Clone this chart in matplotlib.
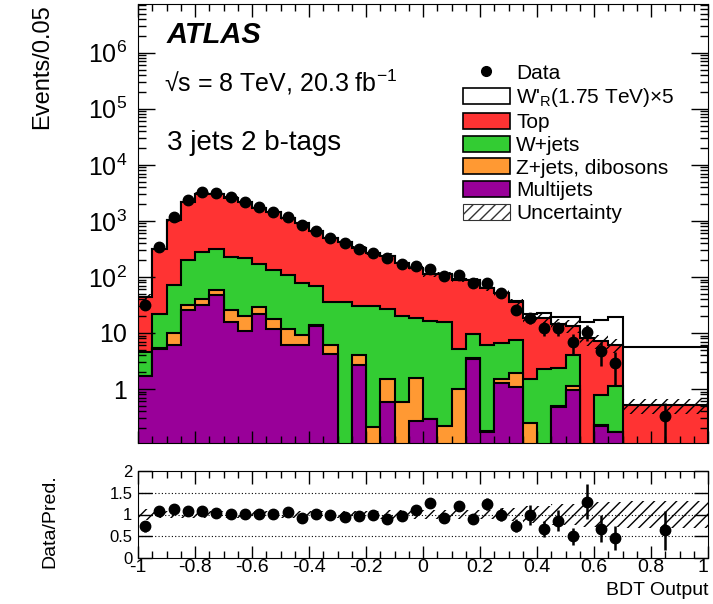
import numpy as np
import matplotlib
matplotlib.use('Agg')
import matplotlib.pyplot as plt
from matplotlib.patches import Patch
from matplotlib.lines import Line2D
from matplotlib.ticker import MultipleLocator, LogLocator, NullFormatter, FuncFormatter, FixedLocator

plt.rcParams['font.family'] = ['Liberation Sans', 'DejaVu Sans']
plt.rcParams['mathtext.fontset'] = 'custom'
plt.rcParams['mathtext.rm'] = 'Liberation Sans'
plt.rcParams['mathtext.it'] = 'Liberation Sans:italic'
plt.rcParams['mathtext.bf'] = 'Liberation Sans:bold'
plt.rcParams['axes.unicode_minus'] = False
plt.rcParams['hatch.linewidth'] = 1.0

# binning: 0.05 wide from -1 to 0.7, last bin merged 0.7 - 1.0
bin_edges = list(np.round(np.arange(-1.0, 0.701, 0.05), 2)) + [1.0]

# events / 0.05
data = [32, 337, 1150, 2370, 3240, 3150, 2630, 2140, 1740, 1440,
        1170, 830, 670, 495, 400, 317, 265, 214, 170, 158,
        141, 103, 107, 78, 78, 51, 26, 18.5, 12.4, 12.4,
        6.8, 10.5, 4.8, 2.9, 0.33]
multijets = [1.7, 5.2, 6.0, 26, 31, 47, 16, 11, 22, 11.9,
             6.0, 6.2, 13.6, 4.2, 0, 2.7, 0, 0.58, 0, 0.27,
             0.29, 0, 0, 3.45, 0.17, 1.3, 1.1, 0, 0, 0.48,
             0.96, 0, 0.22, 0.17, 0]
zjets_db = [0, 0.2, 4.0, 6, 9, 11, 10, 8.8, 7, 6.1,
            5.9, 3.1, 0.2, 2.0, 0, 1.4, 0.21, 0.92, 0.59, 1.28,
            0, 0.22, 1.0, 0.15, 0.01, 0.2, 0.8, 0.25, 0, 0.02,
            0.17, 0, 0.01, 0, 0]
wjets = [2.8, 16.6, 61, 168, 234, 252, 197, 194, 141, 117,
         96, 68.7, 54.2, 28.8, 35, 25.9, 29.8, 25.5, 19.4, 17,
         16.4, 15.5, 4.2, 6.1, 5.9, 5.2, 5.6, 1.25, 2.24, 1.84,
         2.87, 0, 0.55, 0.96, 0]
top = [39.5, 290, 956, 1994, 2726, 2719, 2355, 1926, 1536, 1277,
       1006, 824, 589, 470, 386, 300, 240, 213, 157, 125.5,
       95.3, 97.3, 84.8, 77.3, 56.9, 44.3, 27.5, 17.2, 16.56, 12.06,
       9.6, 8.1, 6.32, 5.04, 0.52]
wprime_x5 = [0.1, 0.1, 0.1, 0.1, 0.1, 0.1, 0.1, 0.1, 0.1, 0.1,
             0.1, 0.1, 0.1, 0.1, 0.1, 0.1, 0.2, 0.2, 0.2, 0.2,
             0.2, 0.3, 0.4, 0.5, 0.6, 1.0, 1.5, 3.0, 3.5, 5.0,
             6.0, 7.7, 9.9, 13.3, 5.2]
# relative uncertainty on the prediction
rel_unc = [0.13, 0.07, 0.07, 0.07, 0.07, 0.07, 0.07, 0.07, 0.07, 0.07,
           0.07, 0.08, 0.08, 0.08, 0.08, 0.08, 0.08, 0.10, 0.10, 0.10,
           0.10, 0.10, 0.10, 0.10, 0.10, 0.15, 0.15, 0.20, 0.20, 0.25,
           0.25, 0.28, 0.28, 0.28, 0.30]

legend_labels = ['Data', "W'$_{\\rm R}$(1.75 TeV)\u00d75", 'Top', 'W+jets',
                 'Z+jets, dibosons', 'Multijets', 'Uncertainty']
x_ticks = [-1, -0.8, -0.6, -0.4, -0.2, 0, 0.2, 0.4, 0.6, 0.8, 1]
ratio_ticks = [0, 0.5, 1, 1.5, 2]

c_top = '#ff3333'
c_wj = '#33cc33'
c_zj = '#ff9933'
c_mj = '#990099'

edges = np.array(bin_edges)
centers = 0.5 * (edges[1:] + edges[:-1])
scale = np.diff(edges) / 0.05
d = np.array(data)
derr = np.sqrt(d * scale) / scale
unc = np.array(rel_unc)

s1 = np.array(multijets)
s2 = s1 + np.array(zjets_db)
s3 = s2 + np.array(wjets)
s4 = s3 + np.array(top)
s5 = s4 + np.array(wprime_x5)

fig = plt.figure(figsize=(7.13, 6.04), dpi=100)
ax = fig.add_axes([138/713, 1-443/604, 570/713, 439/604])
ax2 = fig.add_axes([138/713, 1-558/604, 570/713, 87/604])

floor = 1e-3
for vals, col in [(s5, 'white'), (s4, c_top), (s3, c_wj), (s2, c_zj), (s1, c_mj)]:
    ax.stairs(np.maximum(vals, floor), edges, baseline=floor, fill=True,
              facecolor=col, edgecolor='black', linewidth=1.5)
ax.stairs(s4 * (1 + unc), edges, baseline=s4 * (1 - unc), fill=True,
          facecolor='none', edgecolor='black', hatch='///', linewidth=0)
ax.errorbar(centers, d, yerr=derr, fmt='o', color='black', ms=7.5,
            elinewidth=1.8, capsize=0, zorder=5)

ax.set_yscale('log')
ax.set_xlim(-1, 1)
ax.set_ylim(0.109, 7.4e6)
ax.xaxis.set_major_locator(FixedLocator(x_ticks))
ax.xaxis.set_minor_locator(MultipleLocator(0.05))
ax.yaxis.set_major_locator(LogLocator(base=10, numticks=20))
ax.yaxis.set_minor_locator(LogLocator(base=10, subs=np.arange(2, 10) * 1.0, numticks=100))
ax.yaxis.set_minor_formatter(NullFormatter())


def log_label(v, pos):
    if v == 1:
        return '1'
    if v == 10:
        return '10'
    return r'$10^{%d}$' % round(np.log10(v))


ax.yaxis.set_major_formatter(FuncFormatter(log_label))
ax.tick_params(which='both', direction='in', top=True, right=True,
               labelbottom=False, width=1, labelsize=18)
ax.tick_params(axis='x', which='major', length=9)
ax.tick_params(axis='x', which='minor', length=5)
ax.tick_params(axis='y', which='major', length=12, pad=8)
ax.tick_params(axis='y', which='minor', length=6)
ax.set_ylabel('Events/0.05', fontsize=17, loc='top')
ax.yaxis.set_label_coords(-0.149, 1.0)

ax.text(0.051, 0.911, 'ATLAS', transform=ax.transAxes, fontsize=21,
        fontweight='bold', fontstyle='italic', va='baseline')
ax.text(0.045, 0.800, '\u221as = 8 TeV, 20.3 fb$^{-1}$', transform=ax.transAxes,
        fontsize=18, va='baseline')
ax.text(0.051, 0.667, '3 jets 2 b-tags', transform=ax.transAxes,
        fontsize=20, va='baseline')

handles = [Line2D([], [], marker='o', ls='none', color='black', ms=7),
           Patch(facecolor='white', edgecolor='black', lw=1.2),
           Patch(facecolor=c_top, edgecolor='black', lw=1.2),
           Patch(facecolor=c_wj, edgecolor='black', lw=1.2),
           Patch(facecolor=c_zj, edgecolor='black', lw=1.2),
           Patch(facecolor=c_mj, edgecolor='black', lw=1.2),
           Patch(facecolor='white', edgecolor='0.2', lw=0.8, hatch='///')]
ax.legend(handles, legend_labels, loc='upper left', bbox_to_anchor=(0.570, 0.864),
          frameon=False, fontsize=15, handlelength=2.25, handleheight=0.8,
          handletextpad=0.3, labelspacing=0.17, borderpad=0, borderaxespad=0)

# ratio panel
ratio = d / s4
rerr = derr / s4
for v in (0.5, 1.0, 1.5):
    ax2.axhline(v, color='black', ls=(0, (1, 2)), lw=0.8, zorder=1)
ax2.stairs(1 + unc, edges, baseline=1 - unc, fill=True, facecolor='none',
           edgecolor='black', hatch='///', linewidth=0, zorder=2)
ax2.errorbar(centers, ratio, yerr=rerr, fmt='o', color='black', ms=7.5,
             elinewidth=1.8, capsize=0, zorder=5)
ax2.set_xlim(-1, 1)
ax2.set_ylim(0, 2)
ax2.xaxis.set_minor_locator(MultipleLocator(0.05))
ax2.set_xticks(x_ticks, ['%g' % v for v in x_ticks])
ax2.set_yticks(ratio_ticks, ['%g' % v for v in ratio_ticks])
xl = ax2.get_xticklabels()
xl[-1].set_horizontalalignment('right')
ax2.tick_params(which='both', direction='in', top=True, right=True, width=1)
ax2.tick_params(axis='x', which='major', length=9, pad=1, labelsize=14)
ax2.tick_params(axis='x', which='minor', length=5)
ax2.tick_params(axis='y', which='major', length=10, pad=4, labelsize=12)
ax2.set_ylabel('Data/Pred.', fontsize=14)
ax2.yaxis.set_label_coords(-0.139, 0.42)
ax2.set_xlabel('BDT Output', fontsize=14, loc='right')
ax2.xaxis.set_label_coords(1.0, -0.276)

fig.savefig('out.png', dpi=100)
